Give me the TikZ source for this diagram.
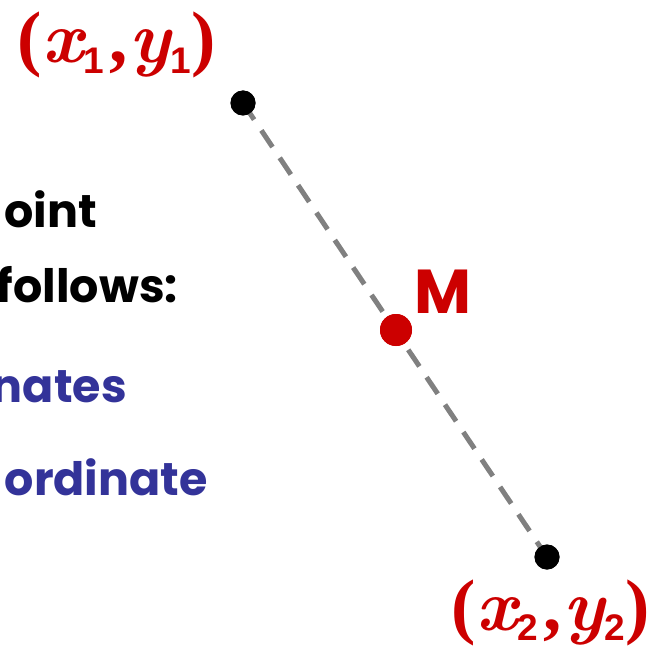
\documentclass[tikz,border=0pt]{standalone}
\usepackage{fontspec}
\newfontfamily\geo{Poppins}
\newfontfamily\sansr{Liberation Sans}
\newfontfamily\serifb{Liberation Serif}
\definecolor{cred}{RGB}{204,0,0}
\definecolor{cblue}{RGB}{51,51,153}
\definecolor{cgray}{RGB}{128,128,128}
\newcommand{\sub}[1]{\raisebox{-0.14em}{\fontsize{37}{37}\sansr #1}}
\newcommand{\vr}[1]{{\rmfamily\bfseries\itshape #1}}
\newcommand{\pr}[1]{{\serifb\bfseries #1}}
\begin{document}
\begin{tikzpicture}[x=1pt,y=-1pt,
  bodytext/.style={anchor=base east, inner sep=0pt, font=\geo\bfseries\fontsize{46}{46}\selectfont},
  coordlabel/.style={anchor=base west, inner sep=0pt, text=cred, font=\rmfamily\bfseries\fontsize{73}{73}\selectfont},
  blackdot/.style={circle, fill=black, inner sep=0pt, minimum size=25pt},
  reddot/.style={circle, fill=cred, inner sep=0pt, minimum size=32pt},
  connector/.style={draw=cgray, line width=5pt, dash pattern=on 20pt off 13pt}]
\useasboundingbox (0,0) rectangle (648,652);
\node[blackdot] (p1) at (243,103) {};
\node[blackdot] (p2) at (547,557) {};
\node[reddot] (m) at (396,330) {};
\draw[connector] (p1.center) -- (p2.center);
\node[blackdot] at (p1) {};
\node[blackdot] at (p2) {};
\node[reddot] at (m) {};
\node[anchor=base west, inner sep=0pt, text=cred, font=\geo\bfseries\fontsize{62}{62}\selectfont] (mlabel) at (414,313) {M};
\node[coordlabel] (l1) at (17,63) {\pr{(}\kern1pt\vr{x}\sub{1}\kern5pt\pr{,}\kern2pt\vr{y}\sub{1}\kern1pt\pr{)}};
\node[coordlabel] (l2) at (451,630) {\pr{(}\kern1pt\vr{x}\sub{2}\kern5pt\pr{,}\kern2pt\vr{y}\sub{2}\kern1pt\pr{)}};
\node[bodytext] (t1) at (97,227) {oint};
\node[bodytext] (t2) at (178,302) {follows:};
\node[bodytext, text=cblue] (t3) at (127,402) {nates};
\node[bodytext, text=cblue] (t4) at (208,495) {ordinate};
\end{tikzpicture}
\end{document}
